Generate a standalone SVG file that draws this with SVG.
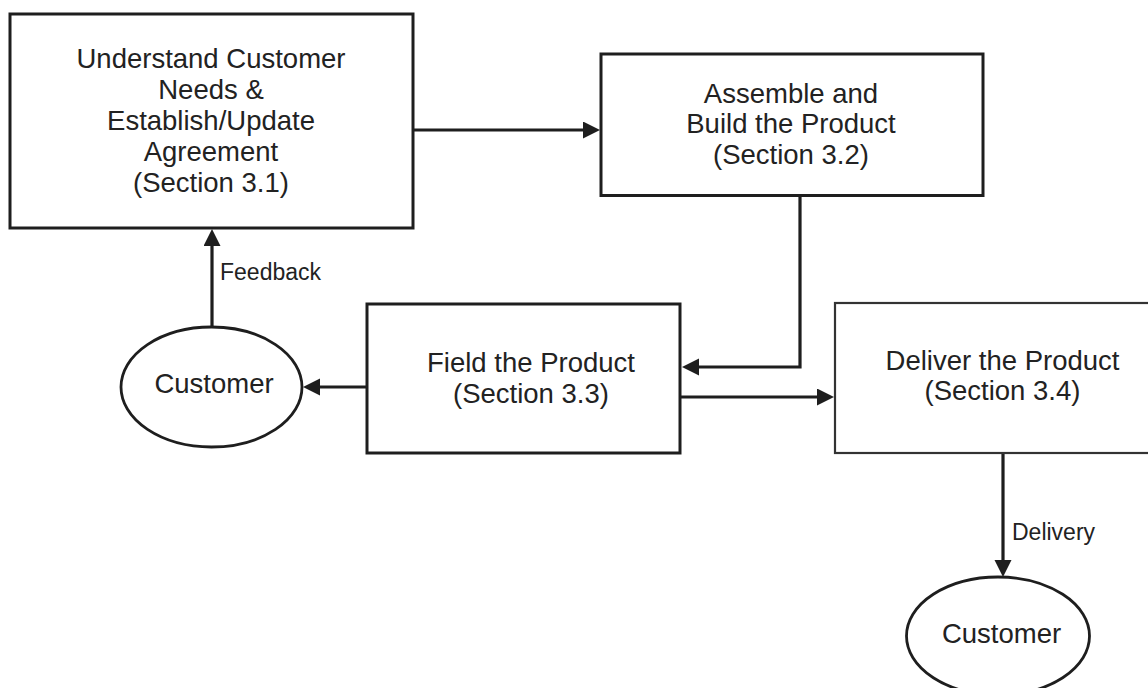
<svg xmlns="http://www.w3.org/2000/svg" width="1148" height="688" viewBox="0 0 1148 688">
<style>
  .box { fill: #fff; stroke: #1e1e1e; stroke-width: 3; }
  .thin { stroke: #333; stroke-width: 2.2; }
  .ell { fill: #fff; stroke: #1e1e1e; stroke-width: 2.8; }
  .t { font-family: "Liberation Sans", Arial, sans-serif; font-size: 27.5px; fill: #222; text-anchor: middle; }
  .lbl { font-family: "Liberation Sans", Arial, sans-serif; font-size: 23px; fill: #222; }
  .conn { fill: none; stroke: #1e1e1e; stroke-width: 3.2; marker-end: url(#ah); }
</style>
<defs>
  <marker id="ah" markerUnits="userSpaceOnUse" markerWidth="18" markerHeight="18" refX="7" refY="8.5" orient="auto">
    <path d="M0,0 L17,8.5 L0,17 z" fill="#1e1e1e"/>
  </marker>
</defs>
<rect width="1148" height="688" fill="#fff"/>
<g id="connectors">
  <path class="conn" d="M413,130 L590,130"/>
  <path class="conn" d="M800,196 L800,367 L692,367"/>
  <path class="conn" d="M367,387 L313,387"/>
  <path class="conn" d="M212,327 L212,239"/>
  <path class="conn" d="M680,397 L824,397"/>
  <path class="conn" d="M1003,453 L1003,567"/>
</g>
<g id="n1">
  <rect class="box" x="10" y="14" width="403" height="214"/>
  <text class="t" x="211" y="68">Understand Customer</text>
  <text class="t" x="211" y="99">Needs &amp;</text>
  <text class="t" x="211" y="130">Establish/Update</text>
  <text class="t" x="211" y="161">Agreement</text>
  <text class="t" x="211" y="192">(Section 3.1)</text>
</g>
<g id="n2">
  <rect class="box" x="601" y="54" width="382" height="141.5"/>
  <text class="t" x="791" y="103">Assemble and</text>
  <text class="t" x="791" y="133">Build the Product</text>
  <text class="t" x="791" y="163.5">(Section 3.2)</text>
</g>
<g id="n3">
  <rect class="box" x="367" y="304" width="313" height="149"/>
  <text class="t" x="531" y="372">Field the Product</text>
  <text class="t" x="531" y="402.5">(Section 3.3)</text>
</g>
<g id="n4">
  <rect class="box thin" x="835" y="303" width="340" height="150"/>
  <text class="t" x="1002.5" y="370">Deliver the Product</text>
  <text class="t" x="1002.5" y="400">(Section 3.4)</text>
</g>
<g id="c1">
  <ellipse class="ell" cx="211.5" cy="387" rx="90.5" ry="60"/>
  <text class="t" x="214" y="393">Customer</text>
</g>
<g id="c2">
  <ellipse class="ell" cx="998" cy="636" rx="91.5" ry="59"/>
  <text class="t" x="1001.5" y="643">Customer</text>
</g>
<g id="labels">
  <text class="lbl" x="220" y="280">Feedback</text>
  <text class="lbl" x="1012" y="540">Delivery</text>
</g>
</svg>
